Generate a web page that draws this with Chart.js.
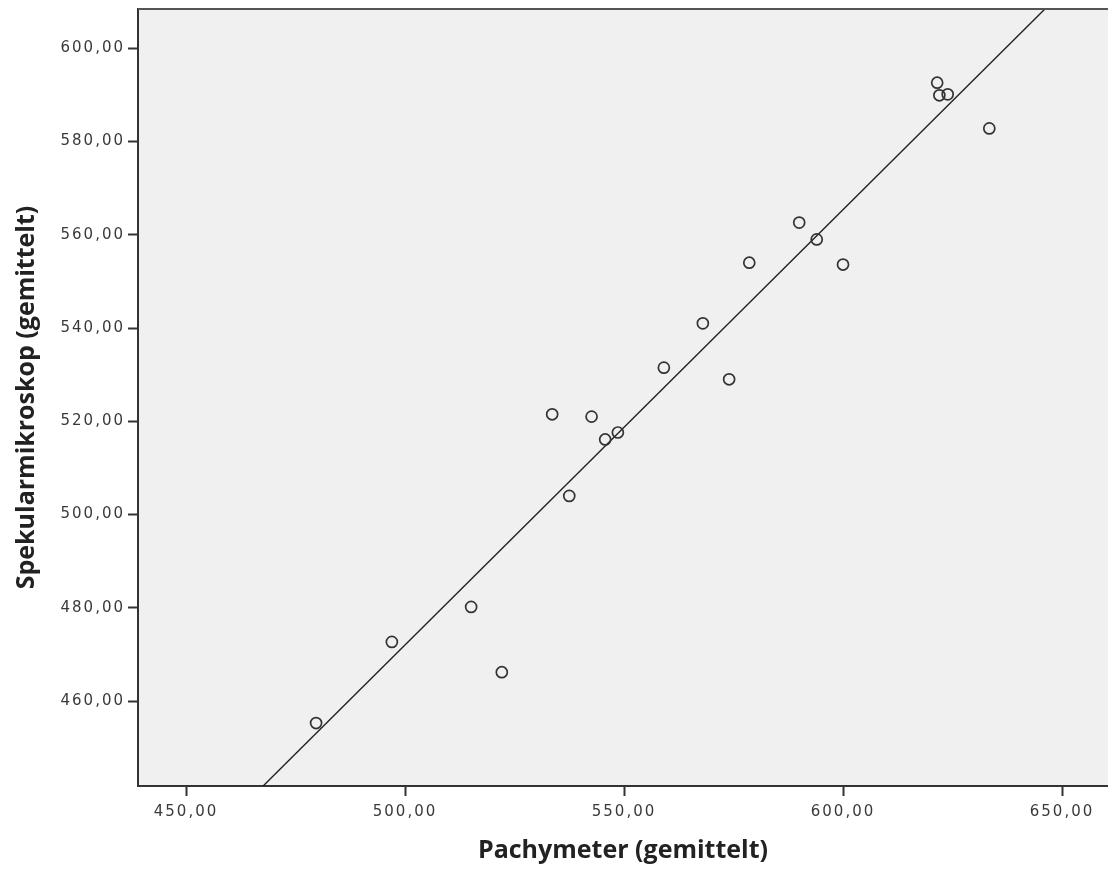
<!DOCTYPE html>
<html>
<head>
<meta charset="utf-8">
<script src="https://cdn.jsdelivr.net/npm/chart.js@4.4.0/dist/chart.umd.min.js"></script>
<style>
  html, body { margin: 0; padding: 0; background: #fff; }
  #wrap { width: 1108px; height: 870px; }
</style>
</head>
<body>
<div id="wrap"><canvas id="scatterChart" width="1108" height="870"></canvas></div>
<script>
// values
const pachymeter = [479.7, 497.0, 515.1, 522.1, 533.6, 537.5, 542.6, 545.7, 548.6, 559.1,
                    568.0, 574.0, 578.6, 590.0, 594.0, 600.0, 621.5, 622.0, 623.9, 633.4];
const spekular = [455.3, 472.7, 480.2, 466.2, 521.5, 504.0, 521.0, 516.1, 517.6, 531.5,
                  541.0, 529.0, 554.0, 562.6, 559.0, 553.6, 592.6, 589.9, 590.1, 582.8];
// fit line ends where it meets the frame
const fitX = [467.6, 646.1];
const fitY = [441.8, 608.4];
const xTicks = [450, 500, 550, 600, 650];
const yTicks = [460, 480, 500, 520, 540, 560, 580, 600];

const points = pachymeter.map((x, i) => ({ x: x, y: spekular[i] }));
const fitLine = fitX.map((x, i) => ({ x: x, y: fitY[i] }));

const fmt = v => v.toFixed(2).replace('.', ',');

// grey plot background + top frame line; tick labels get wider letter spacing
const plotFrame = {
  id: 'plotFrame',
  beforeDraw(chart) {
    const { ctx, chartArea: a } = chart;
    Object.values(chart.scales).forEach(s => {
      if (s._spaced) return;
      const orig = s.drawLabels;
      s.drawLabels = function (area) {
        ctx.letterSpacing = '2px';
        orig.call(this, area);
        ctx.letterSpacing = '0px';
      };
      s._spaced = true;
    });
    ctx.save();
    ctx.fillStyle = '#f0f0f0';
    ctx.fillRect(a.left, a.top, a.right - a.left, a.bottom - a.top);
    ctx.restore();
  },
  afterDatasetsDraw(chart) {
    const { ctx, chartArea: a } = chart;
    ctx.save();
    ctx.strokeStyle = '#555';
    ctx.lineWidth = 2;
    ctx.beginPath();
    ctx.moveTo(a.left, a.top);
    ctx.lineTo(a.right + 5, a.top);
    ctx.stroke();
    ctx.restore();
  }
};

const tickFont = { family: 'DejaVu Sans', size: 15 };
const titleFont = { family: 'Open Sans', size: 25, weight: 'bold' };

new Chart(document.getElementById('scatterChart'), {
  type: 'scatter',
  data: {
    datasets: [{
      label: 'Spekularmikroskop',
      data: points,
      showLine: false,
      pointRadius: 5.5,
      pointBorderWidth: 1.7,
      pointBorderColor: '#333',
      pointBackgroundColor: 'rgba(0,0,0,0)',
      order: 1
    }, {
      label: 'Fit',
      data: fitLine,
      showLine: true,
      borderColor: '#222',
      borderWidth: 1.4,
      pointRadius: 0,
      order: 2
    }]
  },
  options: {
    responsive: false,
    animation: false,
    layout: { autoPadding: false, padding: { top: 9, right: 0, left: 0, bottom: 0 } },
    plugins: { legend: { display: false }, tooltip: { enabled: false } },
    scales: {
      x: {
        type: 'linear',
        min: 439.04,
        max: 660.5,
        afterBuildTicks: s => { s.ticks = xTicks.map(v => ({ value: v })); },
        afterFit: s => { s.height = 84; s.paddingLeft = 0; s.paddingRight = 0; },
        grid: { drawOnChartArea: false, drawTicks: true, tickLength: 10, tickColor: '#333', tickWidth: 2 },
        border: { display: true, color: '#333', width: 2 },
        ticks: { callback: v => fmt(v), font: tickFont, color: '#3a3a3a', padding: 7, maxRotation: 0 },
        title: { display: true, text: 'Pachymeter (gemittelt)', font: titleFont, color: '#222', padding: { top: 0 } }
      },
      y: {
        type: 'linear',
        min: 441.8,
        max: 608.4,
        afterBuildTicks: s => { s.ticks = yTicks.map(v => ({ value: v })); },
        afterFit: s => { s.width = 138; s.paddingTop = 0; s.paddingBottom = 0; },
        grid: { drawOnChartArea: false, drawTicks: true, tickLength: 10, tickColor: '#333', tickWidth: 2 },
        border: { display: true, color: '#333', width: 2 },
        ticks: { callback: v => fmt(v), font: tickFont, color: '#3a3a3a', padding: 3 },
        title: { display: true, text: 'Spekularmikroskop (gemittelt)', font: titleFont, color: '#222', padding: { top: 12, bottom: 0 } }
      }
    }
  },
  plugins: [plotFrame]
});
</script>
</body>
</html>
